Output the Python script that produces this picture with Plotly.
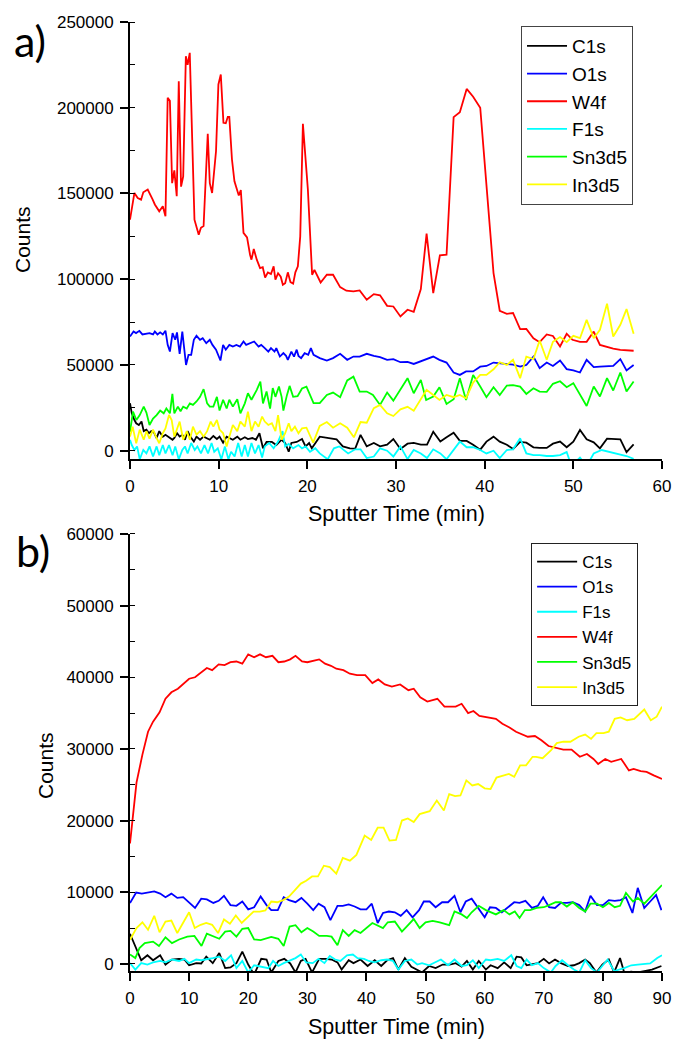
import plotly.graph_objects as go

# ---------------- Panel a) data ----------------
a_w4f_t = [0, 0.5, 0.87, 1.25, 1.5, 2.0, 2.56, 2.8, 3.3, 3.7, 4.0, 4.25, 4.5, 4.75, 5.0, 5.27, 5.5, 5.76, 6.0, 6.3, 6.5, 6.74,
           7.27, 7.75, 8.0, 8.3, 8.77, 9.0, 9.26, 9.7, 9.97, 10.24, 10.54, 10.8, 11.03, 11.2, 11.5, 11.78, 12.27, 12.5, 12.8,
           13.2, 13.54, 13.7, 13.96, 14.3, 14.67, 14.97, 15.24, 15.55, 15.9, 16.2, 16.4, 16.7, 17.0, 17.24, 17.5, 17.8, 18.1,
           18.4, 18.65, 18.93, 19.2, 19.5, 20.06, 20.54, 20.8, 21.5, 22.2, 22.9, 23.7, 24.4, 25.2, 25.9, 26.7, 27.5, 28.2,
           29.0, 29.7, 30.5, 31.3, 32.0, 32.8, 33.45, 34.2, 34.95, 35.7, 36.5, 37.2, 37.97, 38.7, 39.5, 41.0, 41.7, 42.5,
           43.2, 44.0, 44.7, 45.5, 46.2, 47.0, 47.7, 48.5, 49.25, 49.9, 50.75, 51.5, 52.3, 53.0, 53.8, 54.5, 55.3, 56.8]
a_w4f_v = [134700, 150300, 147400, 146400, 150700, 152300, 146400, 143600, 139600, 142500, 136700, 205800, 204000, 156000,
           163500, 148400, 215500, 154000, 160000, 230000, 225000, 232000, 134700, 126000, 130000, 131000, 184800, 156000,
           150300, 174600, 213600, 219400, 191200, 191000, 194700, 194700, 169800, 157100, 148800, 152000, 127000, 124400,
           114300, 111400, 117600, 111400, 106500, 107000, 101000, 104000, 103000, 107500, 99700, 103500, 101500, 96800,
           97700, 104000, 98300, 97400, 104000, 107500, 125000, 190600, 152300, 102600, 105500, 98100, 102600, 102600,
           95400, 93300, 92900, 93500, 88000, 91300, 90600, 84500, 84100, 78300, 82200, 81000, 94300, 126600, 91900,
           113900, 114300, 194500, 197400, 211000, 206400, 200000, 103600, 81600, 79800, 80300, 70900, 71000, 65600,
           63300, 67800, 66900, 60800, 68200, 64700, 63500, 63500, 69500, 61700, 60500, 59500, 58800, 58300]

a_o1s_t = [0, 0.4, 0.68, 1.06, 1.4, 1.8, 2.2, 2.6, 2.8, 3.1, 3.4, 3.7, 4.0, 4.25, 4.5, 4.8, 5.1, 5.3, 5.6, 5.9, 6.1, 6.32,
           6.6, 6.9, 7.2, 7.5, 7.9, 8.2, 8.6, 9.0, 9.3, 9.7, 10.2, 10.5, 10.8, 11.2, 11.6, 12.0, 12.4, 12.8, 13.1, 13.5,
           14.0, 14.5, 14.8, 15.2, 15.6, 15.9, 16.3, 16.5, 16.9, 17.3, 17.6, 17.8, 18.2, 18.5, 18.8, 19.0, 19.3, 19.7,
           20.1, 20.4, 20.7, 21.4, 22.2, 22.9, 23.7, 24.5, 25.2, 25.9, 26.7, 27.5, 28.2, 29.0, 29.7, 30.5, 31.3, 32.0,
           32.8, 33.4, 34.2, 34.9, 35.7, 36.5, 37.2, 37.9, 38.7, 39.5, 40.2, 41.0, 41.7, 42.5, 43.2, 44.0, 44.7, 45.5,
           46.2, 47.0, 47.7, 48.5, 49.25, 50.0, 50.75, 51.5, 52.3, 53.0, 53.8, 54.5, 55.3, 56.0, 56.8]
a_o1s_v = [66600, 69500, 68600, 69900, 67800, 68300, 68600, 67800, 69500, 67800, 69000, 67800, 70000, 61700, 57800, 68600,
           64700, 69000, 56500, 69500, 61700, 50000, 55900, 55900, 64700, 67000, 64700, 65600, 62700, 64700, 61700, 58900,
           52600, 61700, 58900, 61700, 60700, 61700, 60700, 63700, 61700, 62700, 63700, 60700, 61700, 59800, 57800, 59800,
           57800, 59800, 54900, 56900, 55300, 53000, 57800, 54900, 58900, 55300, 54000, 56900, 55900, 59800, 55900, 54000,
           52600, 54000, 56500, 53000, 54900, 54900, 56500, 55300, 54600, 53000, 53400, 51600, 51800, 50600, 52000, 53400,
           54900, 53000, 51400, 45600, 44200, 46200, 46200, 49000, 49400, 51400, 51000, 50600, 50200, 49000, 50000, 54900,
           48100, 51400, 49400, 52600, 47600, 46800, 45600, 53000, 48700, 49000, 49400, 49400, 53400, 46800, 50000]

a_sn_t = [0, 0.34, 0.72, 1.1, 1.55, 1.85, 2.2, 2.6, 3.0, 3.4, 3.8, 4.1, 4.5, 4.78, 5.0, 5.4, 5.7, 6.0, 6.4, 6.75, 7.1, 7.5,
          7.9, 8.3, 8.7, 9.0, 9.4, 9.8, 10.1, 10.5, 10.9, 11.2, 11.6, 12.1, 12.45, 12.95, 13.3, 13.7, 14.3, 14.7, 15.0,
          15.4, 15.8, 16.1, 16.4, 16.8, 17.1, 17.3, 17.7, 18.0, 18.4, 18.9, 19.4, 19.9, 20.7, 21.4, 22.2, 22.9, 23.7,
          24.5, 25.2, 25.9, 26.7, 27.4, 28.2, 29.0, 29.7, 30.5, 31.3, 32.0, 32.8, 33.4, 34.2, 34.9, 35.7, 36.5, 37.2,
          37.9, 38.7, 39.5, 40.2, 41.0, 41.7, 42.5, 43.2, 44.0, 44.7, 45.5, 46.2, 47.0, 47.7, 48.5, 49.25, 50.0, 50.75,
          51.5, 52.3, 53.0, 53.8, 54.5, 55.3, 56.0, 56.8]
a_sn_v = [11000, 22800, 17900, 20800, 25700, 22200, 15000, 18700, 20800, 23400, 21800, 24600, 21800, 33100, 21800, 25700,
          23000, 25700, 24600, 27600, 26700, 28700, 31400, 35900, 27600, 25700, 25700, 31400, 23400, 29700, 24600, 29700,
          25700, 30000, 21800, 27600, 33500, 29700, 35500, 40300, 27600, 34500, 24600, 36500, 31400, 37400, 31400, 23400,
          32400, 37800, 31400, 31800, 36300, 37400, 27700, 27700, 32500, 33900, 31200, 41000, 43200, 34500, 34500, 32500,
          26700, 33900, 29200, 35900, 42300, 33500, 41300, 29600, 31600, 37000, 27300, 30000, 42300, 29600, 44200, 37400,
          31200, 37000, 32500, 38000, 38200, 37400, 33100, 36400, 34500, 34300, 39000, 40500, 37000, 39400, 32500, 26100,
          37400, 31600, 42300, 35100, 45600, 34500, 40300]

a_in_t = [0, 0.3, 0.7, 1.1, 1.55, 1.85, 2.2, 2.6, 3.0, 3.3, 3.7, 4.0, 4.4, 4.7, 5.0, 5.3, 5.6, 6.0, 6.4, 6.75, 7.1, 7.5, 7.9,
          8.3, 8.7, 9.1, 9.4, 9.8, 10.1, 10.5, 10.9, 11.2, 11.6, 12.1, 12.45, 12.95, 13.3, 13.7, 14.1, 14.5, 14.9, 15.2,
          15.6, 16.0, 16.4, 16.7, 17.1, 17.5, 17.9, 18.2, 18.6, 19.0, 19.4, 19.9, 20.66, 21.4, 22.2, 22.9, 23.7, 24.5,
          25.25, 26.0, 26.7, 27.5, 28.2, 29.0, 29.7, 30.5, 31.3, 32.0, 32.8, 33.45, 34.2, 34.9, 35.7, 36.5, 37.2, 37.9,
          38.7, 39.5, 40.2, 41.0, 41.7, 42.5, 43.2, 44.0, 44.7, 45.5, 46.2, 47.0, 47.7, 48.5, 49.25, 50.0, 50.75, 51.5,
          52.3, 53.0, 53.8, 54.5, 55.3, 56.0, 56.8]
a_in_v = [8200, 14000, 4300, 12300, 6400, 11400, 7000, 12300, 7400, 4300, 10200, 13000, 20800, 17900, 8200, 12300, 17000,
          6400, 11400, 6400, 14000, 9300, 11400, 8200, 11400, 17000, 14000, 17900, 12300, 10200, 2500, 8200, 15000, 11400,
          17000, 14000, 22800, 11400, 17000, 14000, 19900, 17000, 15000, 16000, 11400, 20800, 6400, 10200, 16000, 11400,
          14000, 10200, 13000, 13400, 4700, 14400, 16700, 13400, 16000, 13400, 7800, 16700, 16300, 24800, 26700, 21800,
          20200, 24100, 25600, 23300, 30000, 35500, 32500, 29600, 32500, 31200, 32500, 30600, 39700, 44200, 44200, 47500,
          51600, 50000, 53000, 42300, 54900, 53400, 64300, 53000, 63500, 66300, 63300, 67000, 65600, 76300, 65600, 70500,
          85700, 66600, 73400, 82600, 68200]

a_c1s_t = [0, 0.2, 0.5, 0.7, 1.0, 1.3, 1.55, 1.85, 2.15, 2.4, 2.7, 3.0, 3.3, 3.7, 4.0, 4.4, 4.8, 5.0, 5.3, 5.6, 5.9, 6.2, 6.5,
           6.8, 7.2, 7.5, 7.9, 8.3, 8.7, 9.0, 9.4, 9.8, 10.1, 10.5, 10.9, 11.2, 11.6, 12.1, 12.45, 12.95, 13.3, 13.8, 14.2,
           14.6, 15.0, 15.4, 16.0, 16.5, 17.1, 17.5, 17.9, 18.2, 18.8, 19.4, 19.8, 20.2, 20.5, 21.4, 22.2, 23.3, 24.0,
           24.8, 25.4, 26.0, 26.7, 27.5, 28.2, 29.0, 29.7, 30.5, 31.3, 32.0, 32.8, 33.5, 34.2, 35.0, 35.7, 36.5, 37.2,
           37.97, 38.7, 39.5, 40.2, 41.0, 41.7, 42.5, 43.2, 44.0, 44.7, 45.5, 46.2, 47.0, 47.7, 48.5, 49.25, 50.0, 50.75,
           51.5, 52.3, 53.0, 53.8, 54.5, 55.3, 56.0, 56.8]
a_c1s_v = [27700, 21800, 17900, 16000, 15000, 17000, 11400, 12300, 10200, 11400, 10700, 7400, 11400, 8200, 9300, 7800, 6400,
           7400, 10200, 8200, 9300, 6400, 11400, 8200, 5300, 8200, 6400, 8200, 7400, 6400, 8600, 6800, 8200, 4700, 8200,
           7400, 6400, 8200, 6400, 7800, 6800, 7400, 6400, 10200, 1400, 5100, 5100, 3300, 6400, 4500, -600, 4500, 5100,
           6800, 2500, 4500, 1400, 8200, 7400, 6600, 2500, 1400, 1200, 9200, 2500, 4500, 2500, 3500, 6800, 1000, 4100,
           4500, 3500, 3500, 11100, 5300, 7800, 10500, 5800, 5700, 3500, 600, 5300, 8200, 5300, 3500, 1000, 5100, 4700,
           2000, 1600, 1600, 4100, 5300, 2000, 5300, 12100, 6600, 4900, 1400, 7000, 6800, 6600, -800, 3700]

a_f1s_t = [0, 0.2, 0.5, 0.8, 1.1, 1.5, 1.85, 2.2, 2.6, 3.0, 3.3, 3.7, 4.0, 4.4, 4.8, 5.1, 5.5, 5.9, 6.2, 6.5, 6.9, 7.3, 7.6,
           8.0, 8.4, 8.8, 9.2, 9.5, 9.9, 10.3, 10.7, 11.1, 11.4, 11.8, 12.2, 12.6, 12.95, 13.3, 13.7, 14.1, 14.5, 14.9,
           15.2, 15.7, 16.2, 16.7, 17.2, 17.5, 17.9, 18.4, 19.0, 19.4, 19.8, 20.3, 20.9, 21.4, 22.3, 23.0, 23.6, 24.6,
           25.4, 26.0, 26.7, 27.5, 28.2, 29.0, 29.7, 30.5, 31.3, 32.0, 32.8, 33.5, 34.2, 35.0, 35.7, 36.5, 37.2, 37.97,
           38.7, 39.5, 40.2, 41.0, 41.7, 42.5, 43.2, 44.0, 44.7, 45.5, 46.2, 47.0, 47.7, 48.5, 49.25, 49.8, 50.75, 51.5,
           52.3, 53.2, 54.0, 55.0, 56.0, 56.8]
a_f1s_v = [6300, 3300, 400, 2500, -5000, 400, -1600, 2500, -3400, 2500, -2600, 3300, -1600, 3300, -2600, 2500, -5000, 400,
           2500, -1600, 4500, 400, 2500, -1600, 3300, -1600, 4500, -600, 1400, -5000, 2500, -5000, -600, -3400, 4500,
           -3400, 3300, -3400, 4500, -1600, 3300, -4000, 2500, 4500, 1400, 5300, 11400, 2500, 4000, 1400, 3300, 1400,
           2500, -600, 1400, -1600, -5000, 1400, 2500, -1600, 800, 800, -4300, -3400, 1400, 0, -3400, 2500, -4900, 400,
           -1600, -4300, 800, -1600, -5000, 400, 5300, 2000, 2000, 400, -1600, 0, -4300, 400, 800, 7200, -1600, -2600,
           -2600, -3100, -3100, -2600, -800, -9000, -4000, -9000, -1600, 400, -600, -1600, -3100, -4700]

# ---------------- Panel b) data ----------------
b_w4f_t = [0, 1.1, 2.1, 3.05, 3.9, 5.0, 6.0, 7.0, 8.1, 8.9, 10.0, 11.0, 12.1, 13.0, 13.9, 15.0, 16.0, 17.0, 18.0, 19.0, 20.0,
           21.0, 22.0, 23.0, 24.1, 25.1, 26.1, 27.1, 28.0, 29.1, 30.0, 31.0, 32.0, 33.0, 34.0, 34.9, 36.1, 37.2, 38.4, 39.8,
           41.0, 42.0, 43.1, 44.3, 45.7, 47.1, 48.0, 49.1, 50.3, 52.0, 53.2, 55.1, 56.1, 57.2, 58.1, 59.1, 60.5, 61.9,
           63.0, 64.2, 65.3, 66.5, 67.3, 68.5, 69.6, 70.8, 71.9, 73.3, 74.7, 76.1, 77.3, 78.4, 79.2, 80.4, 81.4, 83.1,
           84.4, 85.2, 86.4, 87.4, 88.6, 90.0]
b_w4f_v = [16800, 25300, 29200, 32400, 33800, 35100, 37000, 37900, 38400, 39000, 39800, 40000, 40700, 41300, 41000, 41800,
           41700, 42100, 42200, 41900, 43200, 42800, 43200, 42800, 43000, 42100, 42200, 42500, 43000, 42200, 42100, 42300,
           42500, 41900, 41600, 41200, 41000, 40500, 40300, 40300, 39200, 39700, 39000, 38700, 39000, 38200, 38400, 37200,
           36600, 37000, 35900, 35900, 36300, 35000, 35300, 34600, 34400, 34200, 33500, 33000, 32400, 32000, 31700, 31800,
           31200, 30400, 30200, 29900, 29900, 28900, 29300, 28600, 27900, 28600, 28200, 28600, 27000, 27200, 26900, 26800,
           26300, 25800]

b_in_t = [0, 1.1, 2.1, 3.05, 4.1, 5.0, 6.0, 7.0, 8.0, 9.0, 10.0, 10.95, 11.95, 12.9, 13.9, 14.9, 15.9, 16.9, 17.9, 18.9,
          20.0, 20.9, 21.95, 22.9, 23.9, 24.9, 25.9, 26.9, 27.9, 28.9, 29.8, 30.8, 31.8, 32.8, 33.8, 34.9, 36.0, 37.2,
          38.3, 39.7, 40.8, 41.9, 42.9, 43.9, 45.0, 46.0, 47.0, 48.0, 49.0, 50.7, 51.9, 53.1, 54.0, 55.0, 55.9, 56.9,
          57.9, 58.9, 60.0, 61.0, 62.0, 63.1, 64.1, 65.0, 66.0, 67.0, 68.1, 68.7, 69.8, 71.2, 72.2, 73.3, 74.5, 75.9,
          77.0, 78.0, 78.9, 80.1, 81.0, 82.0, 83.0, 84.1, 85.3, 87.0, 88.1, 89.1, 90.0]
b_in_v = [3350, 5000, 5800, 4750, 6700, 4400, 5900, 6050, 4300, 5700, 7200, 5000, 5450, 5700, 5450, 4300, 6200, 5600, 6750,
          5700, 6600, 7300, 7300, 7450, 8700, 8600, 8900, 9400, 10300, 11200, 11600, 12200, 12200, 13700, 13500, 12600,
          14800, 14400, 15200, 17900, 17300, 19000, 19000, 17200, 17300, 20000, 20300, 19800, 20900, 21300, 22800, 21400,
          23700, 23400, 23500, 25600, 24900, 25100, 24500, 24400, 26000, 26300, 26500, 26100, 27700, 27700, 28900, 28900,
          28700, 29800, 30800, 31000, 31000, 31700, 32000, 31400, 32200, 32200, 32400, 34200, 34400, 34000, 34200, 35500,
          34000, 34500, 35900]

b_o1s_t = [0, 1.04, 2.0, 3.1, 4.1, 5.1, 6.0, 7.0, 8.0, 9.0, 10.0, 11.0, 12.05, 13.0, 14.1, 15.0, 15.9, 17.0, 18.0, 19.0,
           20.0, 21.0, 22.1, 23.1, 23.9, 25.0, 26.0, 26.9, 28.0, 29.0, 30.0, 31.0, 31.9, 32.9, 33.9, 35.1, 36.0, 37.0,
           38.0, 39.0, 40.0, 40.9, 41.9, 42.8, 43.8, 44.8, 45.8, 46.8, 47.8, 48.9, 49.7, 50.7, 51.7, 52.8, 53.8, 54.9,
           55.9, 56.8, 57.8, 58.8, 60.0, 60.9, 61.9, 62.9, 63.9, 65.0, 65.9, 66.9, 68.0, 69.0, 69.9, 70.9, 71.9, 72.9,
           73.9, 74.9, 76.0, 77.0, 77.9, 79.0, 80.0, 81.0, 82.0, 83.0, 83.9, 85.0, 85.9, 87.0, 88.0, 89.0, 89.9]
b_o1s_v = [8500, 9950, 9800, 10000, 10100, 9800, 9300, 9800, 9200, 9300, 8500, 7800, 9100, 9000, 8500, 8800, 9500, 8200,
           8100, 8700, 7600, 7900, 9400, 8200, 7500, 7500, 9300, 8900, 8600, 9200, 8400, 7500, 8400, 7900, 6100, 8100,
           8100, 8300, 8000, 7600, 7600, 8400, 5700, 7100, 7300, 7200, 6700, 7500, 6500, 7500, 8700, 8700, 7900, 8600,
           8600, 9500, 7200, 8700, 9100, 7900, 6500, 7900, 7800, 7200, 7900, 8600, 8500, 8800, 7800, 8100, 9300, 7900,
           7800, 8500, 8500, 8600, 8200, 7300, 9500, 8200, 8200, 8900, 8800, 8900, 9300, 7100, 10600, 7800, 8700, 9600,
           7500]

b_sn_t = [0, 0.9, 1.6, 2.5, 3.9, 4.9, 6.0, 7.1, 8.3, 9.7, 10.9, 12.1, 13.0, 14.1, 15.1, 16.1, 17.0, 18.0, 19.0, 20.0, 21.0,
          22.1, 23.1, 23.9, 25.1, 26.0, 27.0, 28.0, 29.0, 30.0, 31.0, 32.0, 33.3, 34.1, 35.1, 36.0, 37.0, 38.0, 39.0,
          40.0, 41.0, 42.8, 43.6, 44.8, 46.0, 46.8, 48.0, 49.0, 50.0, 51.2, 52.4, 54.0, 54.9, 56.1, 57.0, 57.8, 59.0,
          60.2, 61.0, 61.9, 63.2, 64.2, 65.1, 65.9, 66.8, 67.7, 68.8, 70.0, 70.9, 72.0, 72.9, 73.9, 74.9, 76.0, 77.0,
          77.9, 79.0, 80.0, 81.0, 82.0, 82.9, 83.9, 85.1, 85.9, 87.0, 88.0, 90.0]
b_sn_v = [1300, 800, 2200, 2900, 3100, 2500, 3700, 2900, 3400, 3800, 3900, 2500, 4200, 3800, 3500, 4500, 4600, 3800, 4900,
          5000, 3400, 3300, 3500, 3750, 3500, 2500, 5200, 5400, 4400, 5000, 4500, 3900, 3900, 3800, 2600, 4700, 3900,
          4700, 4300, 5000, 5700, 5000, 5800, 5900, 4500, 5200, 6250, 5000, 5800, 6000, 5800, 5400, 7300, 6900, 6400,
          7200, 8100, 7500, 7200, 6900, 7500, 6900, 7300, 6400, 7500, 7500, 7800, 7900, 8200, 8600, 8600, 8000, 8600,
          7800, 7300, 8400, 8400, 7900, 8500, 7900, 8100, 9900, 8700, 9200, 8400, 9300, 11000]

b_c1s_t = [0, 0.9, 1.9, 2.95, 3.9, 5.1, 6.0, 7.1, 8.3, 9.2, 10.0, 11.2, 12.05, 12.9, 14.0, 15.1, 16.1, 17.0, 18.0, 19.0,
           20.0, 21.0, 22.2, 23.1, 23.9, 25.1, 26.1, 27.1, 28.0, 28.9, 29.7, 30.8, 32.0, 33.1, 34.1, 35.1, 35.8, 37.0,
           37.8, 39.0, 40.2, 41.4, 42.5, 43.5, 44.5, 45.4, 46.5, 47.6, 48.6, 49.4, 50.6, 51.7, 52.9, 54.1, 55.1, 56.1,
           57.0, 58.0, 59.0, 60.2, 61.0, 62.2, 63.3, 64.4, 65.4, 66.2, 67.1, 68.0, 69.0, 70.0, 70.9, 71.9, 72.9, 74.1,
           75.1, 76.0, 77.0, 77.8, 78.9, 79.9, 81.0, 81.9, 82.9, 83.6, 84.8, 85.9, 87.1, 88.3, 89.9]
b_c1s_v = [4200, 2500, 500, 1200, 500, 1200, -100, 600, 700, 600, -200, 100, 50, 1000, 100, 1500, -600, -500, 100, 1700,
           -100, -1500, 700, 600, -1200, 400, 700, 50, -1200, 400, 700, -1200, 700, 700, 600, 200, -800, 500, 100, 600,
           -300, 500, -300, 500, 800, -800, 800, -400, -800, -1200, -300, -600, -100, -100, 100, -400, 400, -800, 400,
           -800, -200, -600, 200, -600, 1000, 900, -200, -100, 100, 700, 50, 600, 100, -300, -200, 100, 600, 100, -1200,
           -100, 600, -1200, 800, -1200, -1100, -1200, -1000, -800, -300]

b_f1s_t = [0, 0.9, 1.9, 2.95, 3.9, 5.1, 6.0, 7.1, 8.3, 9.2, 10.0, 11.2, 12.05, 12.9, 14.0, 15.1, 16.1, 17.1, 18.0, 19.0,
           20.0, 21.0, 22.2, 23.4, 24.2, 25.1, 26.0, 26.9, 28.0, 28.9, 29.8, 30.9, 31.9, 32.9, 33.8, 34.7, 35.6, 36.7,
           37.7, 38.5, 39.6, 40.4, 41.4, 42.5, 43.5, 44.5, 45.4, 46.5, 47.6, 48.6, 49.4, 50.6, 51.6, 52.6, 53.8, 54.9,
           56.1, 57.0, 58.0, 59.0, 60.2, 61.0, 62.2, 63.3, 64.5, 65.4, 66.2, 67.1, 68.0, 69.0, 70.0, 71.2, 72.0, 73.1,
           74.1, 75.1, 76.0, 77.0, 78.0, 79.0, 80.8, 81.9, 83.6, 84.8, 85.9, 88.0, 89.2, 90.0]
b_f1s_v = [100, -800, 100, -100, 200, 400, 200, 600, 400, 700, 100, 600, 500, 600, 800, 1000, 400, 1200, -600, 400, -1200,
           -200, -400, -600, 400, -300, 100, 400, 800, 1300, 200, 100, 700, 100, 1100, 600, 400, 1200, 1300, 800, 700,
           400, 200, 500, 600, 400, -800, 400, 600, -100, 100, -200, 200, 600, -200, 600, -300, -200, 500, -600, 600,
           500, 700, 400, 1200, -300, -600, 600, -200, 100, -600, -1200, -300, 500, -200, -800, -1200, 500, -600, -1200,
           600, -1000, -600, -200, -100, 50, 800, 1200]

# ---------------- Styling ----------------
COL = {"C1s": "#000000", "O1s": "#0000FF", "W4f": "#FF0000", "F1s": "#00FFFF",
       "Sn3d5": "#00FF00", "In3d5": "#FFFF00"}
FONT = "Liberation Sans, Arial, sans-serif"
LW = 1.8

fig = go.Figure()

panel_a = [("C1s", a_c1s_t, a_c1s_v), ("O1s", a_o1s_t, a_o1s_v), ("W4f", a_w4f_t, a_w4f_v),
           ("F1s", a_f1s_t, a_f1s_v), ("Sn3d5", a_sn_t, a_sn_v), ("In3d5", a_in_t, a_in_v)]
panel_b = [("C1s", b_c1s_t, b_c1s_v), ("O1s", b_o1s_t, b_o1s_v), ("F1s", b_f1s_t, b_f1s_v),
           ("W4f", b_w4f_t, b_w4f_v), ("Sn3d5", b_sn_t, b_sn_v), ("In3d5", b_in_t, b_in_v)]

for name, t, v in panel_a:
    fig.add_trace(go.Scatter(x=t, y=v, mode="lines", name=name, line=dict(color=COL[name], width=LW),
                             xaxis="x", yaxis="y", legend="legend"))
for name, t, v in panel_b:
    fig.add_trace(go.Scatter(x=t, y=v, mode="lines", name=name, line=dict(color=COL[name], width=LW),
                             xaxis="x2", yaxis="y2", legend="legend2"))

axis_common = dict(showline=True, linecolor="black", linewidth=1.8, ticks="outside", ticklen=8, tickwidth=1.5,
                   tickcolor="black", showgrid=False, zeroline=False, mirror=False,
                   tickfont=dict(family=FONT, size=17, color="black"), tickformat="d",
                   automargin=False, ticklabelstandoff=3)

fig.update_layout(
    width=685, height=1040, template="none",
    paper_bgcolor="white", plot_bgcolor="white",
    margin=dict(l=130, r=23, t=22, b=69),
    xaxis=dict(domain=[0, 1], anchor="y", range=[0, 60], dtick=10, **axis_common),
    yaxis=dict(domain=[0.5395, 1], anchor="x", range=[-4850, 250000], dtick=50000,
               minor=dict(dtick=25000, ticks="inside", ticklen=5, tickwidth=1.2, tickcolor="black"),
               **axis_common),
    xaxis2=dict(domain=[0, 1], anchor="y2", range=[0, 90], dtick=10, **axis_common),
    yaxis2=dict(domain=[0, 0.4605], anchor="x2", range=[-1000, 60000], dtick=10000,
                minor=dict(dtick=5000, ticks="inside", ticklen=5, tickwidth=1.2, tickcolor="black"),
                **axis_common),
    legend=dict(x=0.735, y=0.9958, xanchor="left", yanchor="top", bgcolor="white",
                bordercolor="#444444", borderwidth=1, font=dict(family=FONT, size=19, color="black"),
                tracegroupgap=0, itemwidth=40),
    legend2=dict(x=0.754, y=0.451, xanchor="left", yanchor="top", bgcolor="white",
                 bordercolor="#222222", borderwidth=1, font=dict(family=FONT, size=17, color="black"),
                 tracegroupgap=0, itemwidth=40),
    showlegend=True,
)

ann = []
ann.append(dict(text="a)", x=-0.222, y=0.980, xref="paper", yref="paper", xanchor="left", yanchor="middle",
                showarrow=False, font=dict(family="Lato, Open Sans, sans-serif", size=43, color="black")))
ann.append(dict(text="b)", x=-0.218, y=0.4436, xref="paper", yref="paper", xanchor="left", yanchor="middle",
                showarrow=False, font=dict(family="Lato, Open Sans, sans-serif", size=43, color="black")))
ann.append(dict(text="Counts", x=(23 - 130) / 532, y=(971 - 240) / 949, xref="paper", yref="paper",
                textangle=-90, showarrow=False, xanchor="center", yanchor="middle",
                font=dict(family=FONT, size=21, color="black")))
ann.append(dict(text="Counts", x=(45 - 130) / 532, y=(971 - 766) / 949, xref="paper", yref="paper",
                textangle=-90, showarrow=False, xanchor="center", yanchor="middle",
                font=dict(family=FONT, size=21, color="black")))
ann.append(dict(text="Sputter Time (min)", x=0.5, y=(971 - 514) / 949, xref="paper", yref="paper",
                showarrow=False, xanchor="center", yanchor="middle",
                font=dict(family=FONT, size=21.5, color="black")))
ann.append(dict(text="Sputter Time (min)", x=0.5, y=(971 - 1027) / 949, xref="paper", yref="paper",
                showarrow=False, xanchor="center", yanchor="middle",
                font=dict(family=FONT, size=21.5, color="black")))
fig.update_layout(annotations=ann)

fig.write_html("out.html")
